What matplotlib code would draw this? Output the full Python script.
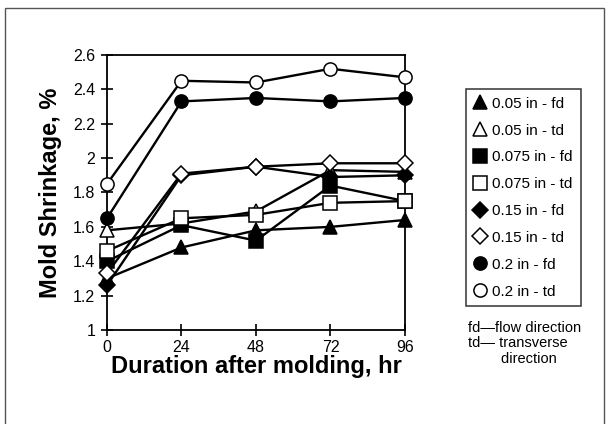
import matplotlib
matplotlib.use("Agg")
import matplotlib.pyplot as plt
from matplotlib.lines import Line2D
from matplotlib.patches import Rectangle

plt.rcParams['font.family'] = ['Liberation Sans', 'DejaVu Sans']

# Datos
horas = [0, 24, 48, 72, 96]
series_nombres = ['0.05 in - fd', '0.05 in - td', '0.075 in - fd', '0.075 in - td',
                  '0.15 in - fd', '0.15 in - td', '0.2 in - fd', '0.2 in - td']
v_005_fd = [1.30, 1.48, 1.58, 1.60, 1.64]
v_005_td = [1.58, 1.62, 1.69, 1.93, 1.92]
v_0075_fd = [1.40, 1.61, 1.52, 1.84, 1.75]
v_0075_td = [1.46, 1.65, 1.67, 1.74, 1.75]
v_015_fd = [1.26, 1.90, 1.95, 1.89, 1.90]
v_015_td = [1.33, 1.91, 1.95, 1.97, 1.97]
v_02_fd = [1.65, 2.33, 2.35, 2.33, 2.35]
v_02_td = [1.85, 2.45, 2.44, 2.52, 2.47]
valores = [v_005_fd, v_005_td, v_0075_fd, v_0075_td, v_015_fd, v_015_td, v_02_fd, v_02_td]
y_ticks = [1, 1.2, 1.4, 1.6, 1.8, 2, 2.2, 2.4, 2.6]
y_labels = ['1', '1.2', '1.4', '1.6', '1.8', '2', '2.2', '2.4', '2.6']

marcadores = ['^', '^', 's', 's', 'D', 'D', 'o', 'o']
rellenos = ['black', 'white'] * 4
tamanos = [10, 10, 9.5, 9.5, 8, 8, 9.5, 9.5]

fig = plt.figure(figsize=(6.09, 4.24), dpi=100)
fig.patches.append(Rectangle((0.009, -0.02), 0.982, 1.0, transform=fig.transFigure,
                             fill=False, edgecolor='#555555', linewidth=1))
ax = fig.add_axes([0.1757, 0.2217, 0.4893, 0.6486])

for vals, m, fc, ms in zip(valores, marcadores, rellenos, tamanos):
    ax.plot(horas, vals, color='black', linewidth=1.7, marker=m, markersize=ms,
            markerfacecolor=fc, markeredgecolor='black', markeredgewidth=1.1,
            clip_on=False, zorder=3)

ax.set_xlim(0, 96)
ax.set_ylim(1, 2.6)
ax.set_xticks(horas)
ax.set_yticks(y_ticks)
ax.set_yticklabels(y_labels)
ax.tick_params(direction='inout', length=9, width=1.2, labelsize=11.5, color='black')
ax.tick_params(axis='y', pad=4)
ax.tick_params(axis='x', pad=3)
for s in ax.spines.values():
    s.set_linewidth(1.3)
ax.set_xlabel('Duration after molding, hr', fontsize=17, fontweight='bold', labelpad=0)
ax.set_ylabel('Mold Shrinkage, %', fontsize=17, fontweight='bold', labelpad=8)

# Leyenda
manejadores = [Line2D([], [], linestyle='none', marker=m, markersize=ms,
                      markerfacecolor=fc, markeredgecolor='black', markeredgewidth=1.1)
               for m, fc, ms in zip(marcadores, rellenos, tamanos)]
leg = fig.legend(manejadores, series_nombres, loc='upper left',
                 bbox_to_anchor=(0.766, 0.79), frameon=True, fancybox=False,
                 edgecolor='black', prop={'size': 11}, handlelength=0.8,
                 handletextpad=0.4, labelspacing=0.84, borderpad=0.5,
                 borderaxespad=0)
leg.get_frame().set_linewidth(1.1)

fig.text(0.768, 0.243, 'fd\u2014flow direction\ntd\u2014 transverse\n        direction',
         fontsize=10.5, va='top', ha='left', linespacing=1.12)

fig.savefig('out.png', dpi=100)
